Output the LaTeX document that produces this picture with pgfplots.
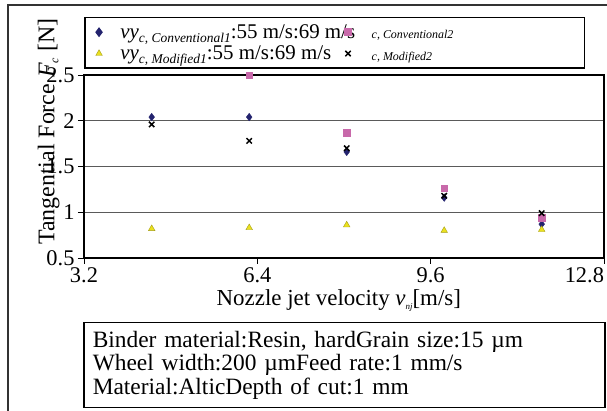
\documentclass[border=0pt]{standalone}
\usepackage{pgfplots}
\pgfplotsset{compat=1.18}
\usepackage{fontspec}
\setmainfont{Liberation Serif}
\definecolor{cnavy}{RGB}{35,35,110}
\definecolor{cpink}{RGB}{200,105,170}
\definecolor{cyel}{RGB}{235,225,30}
\definecolor{cgrid}{RGB}{90,90,90}
\begin{document}
\begin{tikzpicture}
\useasboundingbox (0,0) rectangle (607bp,411bp);
\draw[line width=1.2bp, black!80] (8bp,-10bp) rectangle (620bp,406bp);
\begin{axis}[
  scale only axis, width=520bp, height=183bp,
  at={(84bp,153bp)}, anchor=south west,
  xmin=3.2, xmax=12.8, ymin=0.5, ymax=2.5,
  xtick={3.2,6.4,9.6,12.8}, ytick={0.5,1,1.5,2,2.5},
  xticklabels={3.2,6.4,9.6,\makebox[0pt][r]{12.8}}, yticklabels={0.5,1,1.5,2,2.5},
  tick pos=left, tick align=outside, major tick length=6bp,
  tick style={black, line width=0.8bp},
  axis line style={line width=1.5bp},
  ymajorgrids, grid style={cgrid, line width=1bp},
  ticklabel style={font=\fontsize{22.5}{24}\selectfont},
  xlabel={Nozzle jet velocity \textit{v}\raisebox{-4bp}{\fontsize{9}{9}\selectfont\textit{nj}}[m/s]},
  xlabel style={font=\fontsize{23}{25}\selectfont, at={(axis description cs:0.49,-0.23)}, anchor=center},
  ylabel={Tangential Force \textit{F}\raisebox{-4bp}{\fontsize{12}{12}\selectfont\textit{c}} [N]},
  ylabel style={font=\fontsize{24}{26}\selectfont, at={(axis description cs:-0.068,0.69)}, anchor=center},
  clip=false,
  legend columns=2, legend cell align=left,
  legend image code/.code={\draw[mark repeat=2,mark phase=2] plot coordinates {(0bp,0bp)(8.5bp,0bp)(17bp,0bp)};},
  legend style={at={(0,1)}, anchor=south west, yshift=6bp, draw=black, line width=1.5bp,
    inner xsep=11bp, inner ysep=6bp, column sep=0pt, row sep=4bp,
    nodes={inner xsep=0pt, inner ysep=1bp, line width=0.4bp},
    font=\fontsize{21}{24}\selectfont},
]
\addplot[only marks, mark=diamond*, mark size=3.8bp, color=cnavy]
  coordinates {(4.45,2.04)(6.25,2.04)(8.05,1.66)(9.85,1.16)(11.65,0.87)};
\addlegendentry{\makebox[242.5bp][l]{\hspace{18bp}\textit{vy}\raisebox{-4bp}{\fontsize{13.5}{14}\selectfont\textit{c, Conventional1}}:55 m/s:69 m/s}}
\addplot[only marks, mark=square*, mark size=3.2bp, color=cpink]
  coordinates {(6.25,2.5)(8.05,1.87)(9.85,1.26)(11.65,0.94)};
\addlegendentry{\makebox[222.5bp][l]{\hspace{20.5bp}\raisebox{-6bp}{\fontsize{12}{12}\selectfont\textit{c, Conventional2}}}}
\addplot[only marks, mark=triangle*, mark size=3.8bp, color=cyel!70!black, fill=cyel, line width=0.4bp]
  coordinates {(4.45,0.82)(6.25,0.83)(8.05,0.86)(9.85,0.80)(11.65,0.81)};
\addlegendentry{\makebox[242.5bp][l]{\hspace{18bp}\textit{vy}\raisebox{-4bp}{\fontsize{13.5}{14}\selectfont\textit{c, Modified1}}:55 m/s:69 m/s}}
\addplot[only marks, mark=x, mark size=3.8bp, color=black, line width=1.5bp]
  coordinates {(4.45,1.96)(6.25,1.78)(8.05,1.70)(9.85,1.18)(11.65,0.99)};
\addlegendentry{\makebox[222.5bp][l]{\hspace{20.5bp}\raisebox{-6bp}{\fontsize{12}{12}\selectfont\textit{c, Modified2}}}}
\end{axis}
\node[draw, line width=1.5bp, anchor=north west, minimum width=521bp, minimum height=85bp,
  text width=503bp, align=left, inner xsep=9bp, font=\fontsize{23.5}{23.5}\selectfont]
  at (83bp,89bp) {Binder material:Resin, hardGrain size:15 µm\\Wheel width:200 µmFeed rate:1 mm/s\\Material:AlticDepth of cut:1 mm};
\end{tikzpicture}
\end{document}
